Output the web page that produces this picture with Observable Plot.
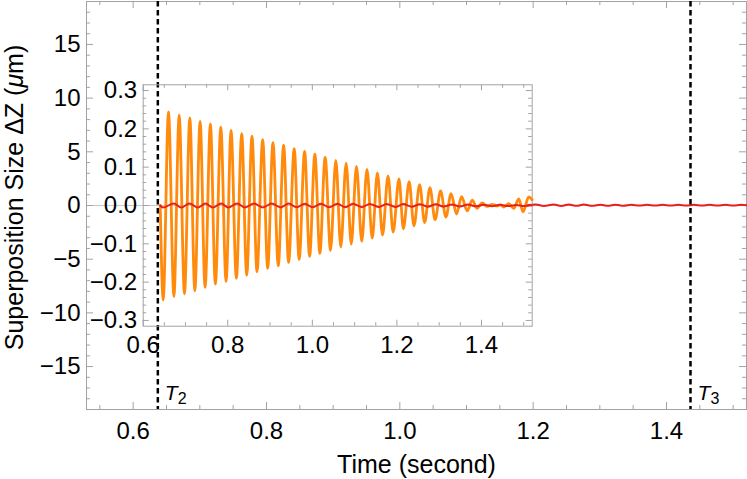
<!DOCTYPE html>
<html><head><meta charset="utf-8">
<script src="https://cdn.jsdelivr.net/npm/d3@7"></script>
<script src="https://cdn.jsdelivr.net/npm/@observablehq/plot@0.6"></script>
<style>
body{margin:0;background:#fff;}
#chart{position:relative;width:747px;height:479px;}
#chart svg{position:absolute;left:0;top:0;}
</style></head><body><div id="chart"></div>
<script>
// ---- data ----
const orangeTime = [0.6403,0.6473,0.6598,0.6726,0.6851,0.6976,0.7103,0.7221,0.7346,0.7464,0.7589,0.7707,0.7835,0.7960,0.8078,0.8203,0.8330,0.8448,0.8573,0.8691,0.8826,0.8944,0.9069,0.9194,0.9321,0.9439,0.9571,0.9689,0.9817,0.9935,1.0060,1.0178,1.0303,1.0430,1.0556,1.0673,1.0799,1.0921,1.1044,1.1169,1.1292,1.1417,1.1539,1.1660,1.1790,1.1912,1.2049,1.2153,1.2290,1.2403,1.2538,1.2656,1.2781,1.2903,1.3033,1.3160,1.3281,1.3411,1.3529,1.3663,1.3781,1.3899,1.4017,1.4135,1.4253,1.4371,1.4450,1.4527,1.4645,1.4763,1.4881,1.4984,1.5117,1.5197];
const orangeValue = [0,-0.2467,0.2441,-0.2371,0.2355,-0.2303,0.2285,-0.2225,0.2198,-0.2136,0.2128,-0.2050,0.2042,-0.1979,0.1963,-0.1901,0.1875,-0.1815,0.1807,-0.1728,0.1718,-0.1640,0.1640,-0.1572,0.1572,-0.1483,0.1483,-0.1405,0.1415,-0.1326,0.1337,-0.1248,0.1258,-0.1170,0.1180,-0.1084,0.1102,-0.1005,0.1023,-0.0935,0.0940,-0.0849,0.0849,-0.0770,0.0770,-0.0692,0.0692,-0.0608,0.0621,-0.0530,0.0543,-0.0444,0.0465,-0.0370,0.0380,-0.0300,0.0310,-0.0222,0.0230,-0.0140,0.0140,-0.0073,0.0068,-0.0025,0.0030,-0.0010,0.0015,-0.0040,0.0050,-0.0075,0.0170,-0.0162,0.0222,0.0150];
const insetRedTime = [0.6403,0.6466,0.6726,0.6898,0.7094,0.7292,0.7471,0.7646,0.7842,0.8014,0.8219,0.8410,0.8620,0.8830,0.9040,0.9250,0.9440,0.9630,0.9820,1.0010,1.0200,1.0400,1.0590,1.0780,1.0960,1.1170,1.1360,1.1560,1.1760,1.1960,1.2150,1.2350,1.2540,1.2730,1.2920,1.3110,1.3300,1.3490,1.3680,1.3870,1.4060,1.4250,1.4440,1.4630,1.4820,1.5010,1.5200];
const insetRedValue = [0,-0.0055,0.0055,-0.0055,0.0055,-0.0054,0.0054,-0.0053,0.0053,-0.0052,0.0052,-0.0051,0.0051,-0.0050,0.0050,-0.0049,0.0049,-0.0048,0.0048,-0.0047,0.0047,-0.0046,0.0046,-0.0045,0.0044,-0.0043,0.0042,-0.0040,0.0039,-0.0037,0.0036,-0.0034,0.0033,-0.0031,0.0030,-0.0028,0.0027,-0.0025,0.0024,-0.0022,0.0021,-0.0019,0.0018,-0.0016,0.0015,-0.0013,0.0005];
const mainRedTime = [1.1900,1.2040,1.2160,1.2310,1.2420,1.2535,1.2650,1.2760,1.2885,1.3010,1.3120,1.3235,1.3355,1.3475,1.3590,1.3710,1.3825,1.3945,1.4060,1.4180,1.4295,1.4415,1.4530,1.4650,1.4765,1.4885,1.5000,1.5120,1.5200];
const mainRedValue = [0.03,0.10,-0.04,0.10,-0.04,0.09,-0.03,0.09,-0.03,0.08,-0.02,0.08,-0.02,0.07,-0.01,0.07,-0.01,0.06,0.00,0.06,0.00,0.06,0.00,0.06,0.00,0.06,0.00,0.06,0.03];
const markerTimes = [0.637, 1.436];
const markerSubscripts = ["2", "3"];
const mainXTicks = [0.6, 0.8, 1.0, 1.2, 1.4];
const mainYTicks = [-15, -10, -5, 0, 5, 10, 15];
const insetXTicks = [0.6, 0.8, 1.0, 1.2, 1.4];
const insetYTicks = [-0.3, -0.2, -0.1, 0, 0.1, 0.2, 0.3];
const xLabel = "Time (second)";
const yLabel = "Superposition Size ΔZ (μm)";

// ---- build tables ----
const orange = orangeTime.map((t, i) => ({t, v: orangeValue[i]}));
const insetRed = insetRedTime.map((t, i) => ({t, v: insetRedValue[i]}));
const mainRed = mainRedTime.map((t, i) => ({t, v: mainRedValue[i]}));

const W = 747, H = 479;
const FONT = "'Liberation Sans', Arial, Helvetica, sans-serif";
const frameGray = "#a3a3a3";
const axisGray = "#c8c8c8";
const ORANGE = "#ff8a0c";
const RED = "#e8201c";

const mainXMinor = d3.range(11, 31).filter(i => i % 4 !== 0).map(i => +(i * 0.05).toFixed(2));
const mainYMinor = d3.range(-18, 19).filter(i => i % 5 !== 0);
const insetXMinor = d3.range(13, 31).filter(i => i % 4 !== 0).map(i => +(i * 0.05).toFixed(2));
const insetYMinor = d3.range(-15, 16).filter(i => i % 5 !== 0).map(i => +(i * 0.02).toFixed(2));

function frameTicks(xMaj, xMin, yMaj, yMin, iw, ih, maj, min) {
  const o = {stroke: frameGray, strokeWidth: 1};
  return [
    Plot.tickX(xMaj, {x: d => d, insetTop: ih - maj, ...o}),
    Plot.tickX(xMaj, {x: d => d, insetBottom: ih - maj, ...o}),
    Plot.tickX(xMin, {x: d => d, insetTop: ih - min, ...o}),
    Plot.tickX(xMin, {x: d => d, insetBottom: ih - min, ...o}),
    Plot.tickY(yMaj, {y: d => d, insetRight: iw - maj, ...o}),
    Plot.tickY(yMaj, {y: d => d, insetLeft: iw - maj, ...o}),
    Plot.tickY(yMin, {y: d => d, insetRight: iw - min, ...o}),
    Plot.tickY(yMin, {y: d => d, insetLeft: iw - min, ...o})
  ];
}

// ---- main plot ----
const mM = {left: 86, right: 1, top: 1, bottom: 70};
const mainSvg = Plot.plot({
  width: W, height: H,
  marginLeft: mM.left, marginRight: mM.right, marginTop: mM.top, marginBottom: mM.bottom,
  style: {fontFamily: FONT, background: "white", color: "black"},
  x: {domain: [0.53, 1.52]},
  y: {domain: [-19, 19]},
  marks: [
    Plot.ruleY([0], {stroke: axisGray, strokeWidth: 1}),
    ...frameTicks(mainXTicks, mainXMinor, mainYTicks, mainYMinor, W - mM.left - mM.right, H - mM.top - mM.bottom, 7, 4),
    Plot.frame({stroke: frameGray, strokeWidth: 1}),
    Plot.line(mainRed, {x: "t", y: "v", stroke: RED, strokeWidth: 2, curve: "monotone-x"}),
    Plot.ruleX(markerTimes, {x: d => d, stroke: "black", strokeWidth: 2.5, strokeDasharray: "5.5,3.5"}),
    Plot.text(markerTimes, {x: d => d, y: () => -18.1, text: () => "T", fontStyle: "italic", fontSize: 21, textAnchor: "start", lineAnchor: "bottom", dx: 7}),
    Plot.text(markerTimes, {x: d => d, y: () => -18.1, text: (d, i) => markerSubscripts[i], fontSize: 16, textAnchor: "start", lineAnchor: "bottom", dx: 20, dy: 4}),
    Plot.axisX({ticks: mainXTicks, tickSize: 0, tickPadding: 12.5, tickFormat: d3.format(".1f"), fontSize: 24, label: null}),
    Plot.axisY({ticks: mainYTicks, tickSize: 0, tickPadding: 6, tickFormat: d3.format("d"), fontSize: 24, label: null}),
    Plot.text([xLabel], {text: d => d, frameAnchor: "bottom", lineAnchor: "bottom", dy: 63.5, fontSize: 25}),
    Plot.text([yLabel], {text: d => d, frameAnchor: "left", textAnchor: "middle", rotate: -90, lineAnchor: "top", dx: -81, dy: -8, fontSize: 25})
  ]
});

// ---- inset plot ----
const iM = {left: 142.7, right: 215.3, top: 84.3, bottom: 153.3};
const insetSvg = Plot.plot({
  width: W, height: H,
  marginLeft: iM.left, marginRight: iM.right, marginTop: iM.top, marginBottom: iM.bottom,
  style: {fontFamily: FONT, background: "transparent", color: "black"},
  x: {domain: [0.6, 1.52]},
  y: {domain: [-0.315, 0.315]},
  marks: [
    Plot.ruleY([0], {stroke: axisGray, strokeWidth: 1}),
    ...frameTicks(insetXTicks, insetXMinor, insetYTicks, insetYMinor, W - iM.left - iM.right, H - iM.top - iM.bottom, 6, 3.5),
    Plot.frame({stroke: frameGray, strokeWidth: 1}),
    Plot.line(orange, {x: "t", y: "v", stroke: ORANGE, strokeWidth: 2.8, curve: "monotone-x"}),
    Plot.line(insetRed, {x: "t", y: "v", stroke: RED, strokeWidth: 2, curve: "monotone-x"}),
    Plot.axisX({ticks: insetXTicks, tickSize: 0, tickPadding: 10, tickFormat: d3.format(".1f"), fontSize: 24, label: null}),
    Plot.axisY({ticks: insetYTicks, tickSize: 0, tickPadding: 6, tickFormat: d3.format(".1f"), fontSize: 24, label: null})
  ]
});

const chart = document.getElementById("chart");
chart.appendChild(mainSvg);
chart.appendChild(insetSvg);

// italic μ in the y label
d3.select(mainSvg).selectAll("text").filter(function() { return this.textContent === yLabel; }).each(function() {
  const t = d3.select(this);
  t.text(null);
  t.append("tspan").text("Superposition Size ΔZ (");
  t.append("tspan").attr("font-style", "italic").text("μ");
  t.append("tspan").text("m)");
});
</script></body></html>
